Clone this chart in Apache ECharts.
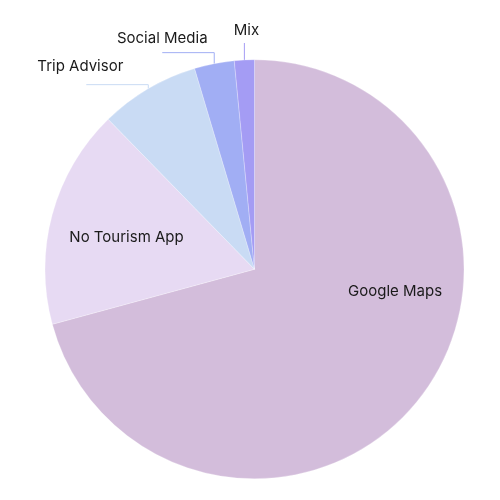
<!DOCTYPE html>
<html>
<head>
<meta charset="utf-8">
<script src="https://cdn.jsdelivr.net/npm/echarts@6/dist/echarts.min.js"></script>
<style>
html,body{margin:0;padding:0;background:#fff;}
#chart{width:500px;height:500px;}
</style>
</head>
<body>
<div id="chart"></div>
<script>
const categories = ['Google Maps', 'No Tourism App', 'Trip Advisor', 'Social Media', 'Mix'];
const values = [46, 11, 5, 2, 1];
const colors = ['#d3bddb', '#e7daf3', '#c9dbf4', '#a1aef4', '#a49cf4'];

// label placement tweaks (style only)
const insideOffsets = { 0: [55, -43], 1: [-24, -3] };
const leaders = { 2: [4, 62, -6, -18], 3: [11, 52, 0, -14], 4: [17, 0, 2, -13] };

const chart = echarts.init(document.getElementById('chart'), null, { renderer: 'canvas' });

const data = categories.map((name, i) => ({
  name: name,
  value: values[i],
  itemStyle: { color: colors[i] },
  label: { position: i < 2 ? 'inside' : 'outside' },
  labelLine: { show: i >= 2 }
}));

chart.setOption({
  animation: false,
  series: [{
    type: 'pie',
    center: ['50.9%', '53.85%'],
    radius: 209.5,
    startAngle: 90,
    clockwise: true,
    data: data,
    itemStyle: { borderColor: 'rgba(255,255,255,0.5)', borderWidth: 0.5 },
    label: {
      show: true,
      formatter: '{b}',
      fontFamily: 'Inter',
      fontSize: 15,
      color: '#1a1a1a'
    },
    labelLine: { show: true, length: 10, length2: 10, lineStyle: { width: 1 } },
    emphasis: { disabled: true },
    labelLayout: function (params) {
      const i = params.dataIndex;
      if (i < 2) {
        return { dx: insideOffsets[i][0], dy: insideOffsets[i][1] };
      }
      const p0 = params.labelLinePoints[0];
      const L = leaders[i];
      const p1 = [p0[0], p0[1] - L[0]];
      const p2 = [p1[0] - L[1], p1[1]];
      return {
        x: p2[0] + L[2],
        y: p2[1] + L[3],
        align: 'center',
        verticalAlign: 'middle',
        labelLinePoints: [p0, p1, p2]
      };
    }
  }]
});
</script>
</body>
</html>
